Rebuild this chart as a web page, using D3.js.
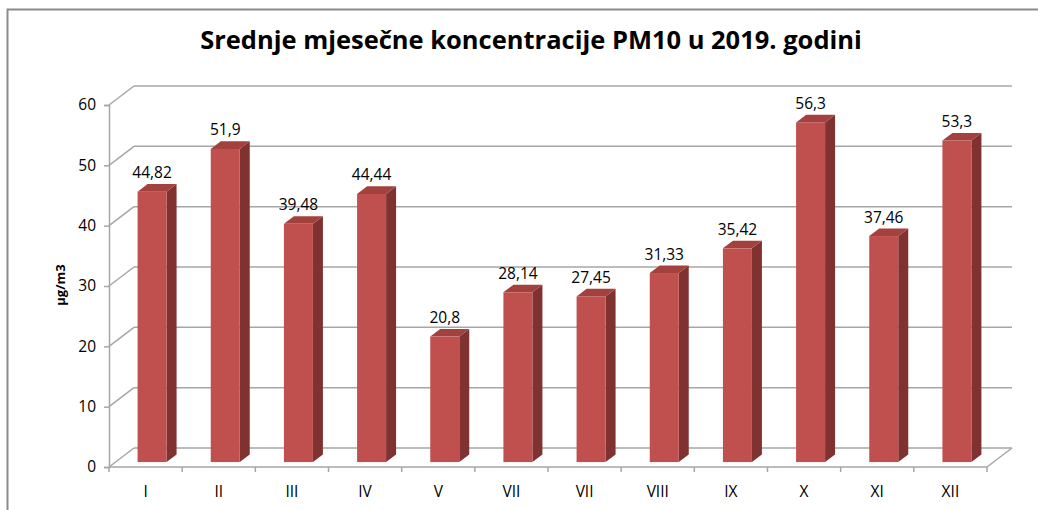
<!DOCTYPE html>
<html>
<head>
<meta charset="utf-8">
<script src="https://cdn.jsdelivr.net/npm/d3@7"></script>
<style>
  body { margin: 0; background: #fff; }
</style>
</head>
<body>
<script>
const months = ['I', 'II', 'III', 'IV', 'V', 'VII', 'VII', 'VIII', 'IX', 'X', 'XI', 'XII'];
const values = [44.82, 51.9, 39.48, 44.44, 20.8, 28.14, 27.45, 31.33, 35.42, 56.3, 37.46, 53.3];
const yTicks = [0, 10, 20, 30, 40, 50, 60];
const title = 'Srednje mjesečne koncentracije PM10 u 2019. godini';
const yTitle = 'µg/m3';

const width = 1038;
const height = 510;
const font = '"Open Sans", "Liberation Sans", sans-serif';

// 3d look: back wall is shifted by this much
const wall = { dx: 25, dy: -19 };
// bars stand a bit behind the front edge
const barShift = 0.26;
const barDepth = 0.4;

const colors = {
    front: '#c0504d',
    side: '#7f3230',
    top: '#a3413e',
    grid: '#a6a6a6',
    axis: '#a6a6a6',
    border: '#8a8a8a'
};

const idx = months.map((m, i) => i);

const x = d3.scaleBand()
    .domain(idx)
    .range([109, 987]);

const y = d3.scaleLinear()
    .domain([0, 60])
    .range([467, 105]);

const barWidth = 29;

const svg = d3.create('svg')
    .attr('width', width)
    .attr('height', height)
    .attr('font-family', font);

document.querySelector('body').appendChild(svg.node());

// outer frame
svg.append('rect')
    .attr('x', 7.5)
    .attr('y', 9.5)
    .attr('width', width + 10)
    .attr('height', height + 10)
    .attr('fill', 'none')
    .attr('stroke', colors.border)
    .attr('stroke-width', 2);

const titleText = svg.append('text')
    .attr('x', 531)
    .attr('y', 49)
    .attr('text-anchor', 'middle')
    .attr('font-size', 23)
    .attr('font-weight', 'bold')
    .attr('fill', '#000')
    .text(title);
// fit the title to the width it has in the original (~662px)
const tLen = titleText.node().getComputedTextLength();
if (tLen > 0) titleText.attr('font-size', 23 * 662 / tLen);

const x0 = x.range()[0];
const x1 = x.range()[1];

// back wall grid + left side wall diagonals
const grid = svg.append('g')
    .attr('stroke', colors.grid)
    .attr('stroke-width', 1.5)
    .attr('fill', 'none');

grid.selectAll('line.back')
    .data(yTicks)
    .join('line')
    .attr('class', 'back')
    .attr('x1', x0 + wall.dx)
    .attr('x2', x1 + wall.dx)
    .attr('y1', d => y(d) + wall.dy)
    .attr('y2', d => y(d) + wall.dy);

grid.selectAll('line.side')
    .data(yTicks)
    .join('line')
    .attr('class', 'side')
    .attr('x1', x0)
    .attr('x2', x0 + wall.dx)
    .attr('y1', d => y(d))
    .attr('y2', d => y(d) + wall.dy);

// floor: front edge and right diagonal
grid.append('line')
    .attr('x1', x0).attr('x2', x1)
    .attr('y1', y(0)).attr('y2', y(0));
grid.append('line')
    .attr('x1', x1).attr('x2', x1 + wall.dx)
    .attr('y1', y(0)).attr('y2', y(0) + wall.dy);

// y axis
const y_axis = d3.axisLeft(y)
    .tickValues(yTicks)
    .tickSize(5)
    .tickPadding(8);

const yg = svg.append('g')
    .attr('transform', `translate(${x0},0)`)
    .call(y_axis);
yg.select('.domain').attr('stroke', colors.axis).attr('stroke-width', 1.5);
yg.selectAll('.tick line').attr('stroke', colors.axis).attr('stroke-width', 1.5);
yg.selectAll('.tick text')
    .attr('font-family', font)
    .attr('font-size', 15.5)
    .attr('fill', '#000');

// x axis: ticks sit between categories
const xt = svg.append('g')
    .attr('stroke', colors.axis)
    .attr('stroke-width', 1.5);
xt.selectAll('line')
    .data(idx.concat([idx.length]))
    .join('line')
    .attr('x1', d => d < idx.length ? x(d) : x1)
    .attr('x2', d => d < idx.length ? x(d) : x1)
    .attr('y1', y(0))
    .attr('y2', y(0) + 5);

svg.append('g')
    .selectAll('text')
    .data(idx)
    .join('text')
    .attr('x', d => x(d) + x.bandwidth() / 2)
    .attr('y', 497)
    .attr('text-anchor', 'middle')
    .attr('font-size', 15.5)
    .attr('fill', '#000')
    .text(d => months[d]);

svg.append('text')
    .attr('transform', `translate(65,285) rotate(-90)`)
    .attr('text-anchor', 'middle')
    .attr('font-size', 13)
    .attr('font-weight', 'bold')
    .attr('fill', '#000')
    .text(yTitle);

// bars
const sx = wall.dx * barShift;
const sy = wall.dy * barShift;
const ddx = wall.dx * barDepth;
const ddy = wall.dy * barDepth;

const bar = svg.append('g')
    .selectAll('g')
    .data(idx)
    .join('g');

const barLeft = d => x(d) + x.bandwidth() / 2 + sx - barWidth / 2;
const barBase = y(0) + sy;
const barTop = d => y(values[d]) + sy;

bar.append('path')
    .attr('fill', colors.side)
    .attr('d', d => {
        const r = barLeft(d) + barWidth;
        const t = barTop(d);
        return `M${r},${t}L${r + ddx},${t + ddy}L${r + ddx},${barBase + ddy}L${r},${barBase}Z`;
    });

bar.append('path')
    .attr('fill', colors.top)
    .attr('d', d => {
        const l = barLeft(d);
        const r = l + barWidth;
        const t = barTop(d);
        return `M${l},${t}L${r},${t}L${r + ddx},${t + ddy}L${l + ddx},${t + ddy}Z`;
    });

bar.append('rect')
    .attr('fill', colors.front)
    .attr('x', barLeft)
    .attr('y', barTop)
    .attr('width', barWidth)
    .attr('height', d => barBase - barTop(d));

bar.append('text')
    .attr('x', d => barLeft(d) + barWidth / 2)
    .attr('y', d => barTop(d) - 13.5)
    .attr('text-anchor', 'middle')
    .attr('font-size', 15.5)
    .attr('fill', '#000')
    .text(d => String(values[d]).replace('.', ','));
</script>
</body>
</html>
